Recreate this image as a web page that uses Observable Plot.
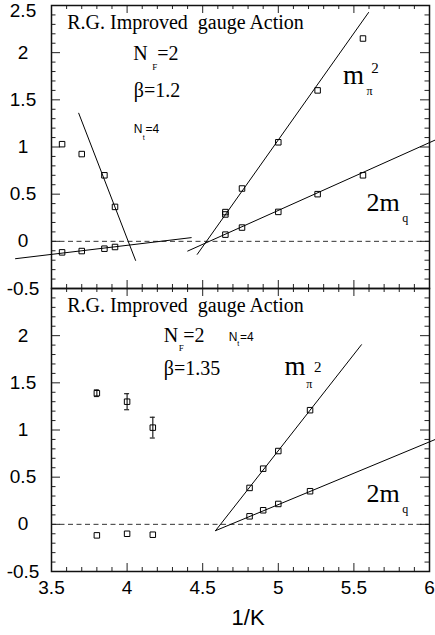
<!DOCTYPE html>
<html><head><meta charset="utf-8">
<script src="https://cdn.jsdelivr.net/npm/d3@7"></script>
<script src="https://cdn.jsdelivr.net/npm/@observablehq/plot@0.6"></script>
<style>body{margin:0;background:#fff}</style>
</head><body><div id="chart"></div>
<script>
const panels = ["top", "bottom"];

// ---- top panel (beta = 1.2) ----
const topLeftK = [3.57, 3.70, 3.85, 3.92];
const topLeftUpper = [1.03, 0.925, 0.70, 0.365];
const topLeftLower = [-0.117, -0.103, -0.078, -0.06];
const topPionK = [4.65, 4.65, 4.76, 5.00, 5.26, 5.56];
const topPion = [0.285, 0.31, 0.56, 1.05, 1.60, 2.15];
const topQuarkK = [4.65, 4.76, 5.00, 5.26, 5.56];
const topQuark = [0.071, 0.146, 0.312, 0.50, 0.70];
const topFitUpperX = [3.68, 4.056], topFitUpperY = [1.358, -0.202];
const topFitLowerX = [3.262, 4.424], topFitLowerY = [-0.184, 0.039];
const topFitPionX = [4.464, 5.597], topFitPionY = [-0.138, 2.426];
const topFitQuarkX = [4.401, 6.038], topFitQuarkY = [-0.103, 1.074];

// ---- bottom panel (beta = 1.35) ----
const botLeftK = [3.80, 4.00, 4.17];
const botLeftUpper = [1.39, 1.30, 1.025];
const botLeftUpperErr = [0.035, 0.085, 0.11];
const botLeftLower = [-0.117, -0.10, -0.11];
const botRightK = [4.81, 4.90, 5.00, 5.21];
const botPion = [0.386, 0.59, 0.777, 1.21];
const botQuark = [0.085, 0.149, 0.216, 0.351];
const botFitPionX = [4.585, 5.55], botFitPionY = [-0.067, 1.904];
const botFitQuarkX = [4.585, 6.04], botFitQuarkY = [-0.067, 0.901];

// ---- tick labels ----
const xTickLabels = [3.5, 4, 4.5, 5, 5.5, 6];
const topYTickLabels = [-0.5, 0, 0.5, 1, 1.5, 2];
const topYTickTopLabel = [2.5];
const botYTickLabels = [-0.5, 0, 0.5, 1, 1.5, 2];

// build tables
const pts = (panel, xs, ys, errs) => xs.map((x, i) => ({panel, x, y: ys[i], err: errs ? errs[i] : 0}));
const points = [
  ...pts("top", topLeftK, topLeftUpper), ...pts("top", topLeftK, topLeftLower),
  ...pts("top", topPionK, topPion), ...pts("top", topQuarkK, topQuark),
  ...pts("bottom", botLeftK, botLeftUpper, botLeftUpperErr), ...pts("bottom", botLeftK, botLeftLower),
  ...pts("bottom", botRightK, botPion), ...pts("bottom", botRightK, botQuark)
];
const errRows = pts("bottom", botLeftK, botLeftUpper, botLeftUpperErr).map(d => ({...d, lo: d.y - d.err, hi: d.y + d.err}));
let fid = 0;
const fit = (panel, xs, ys) => { fid++; return xs.map((x, i) => ({panel, id: fid, x, y: ys[i]})); };
const fits = [
  ...fit("top", topFitUpperX, topFitUpperY), ...fit("top", topFitLowerX, topFitLowerY),
  ...fit("top", topFitPionX, topFitPionY), ...fit("top", topFitQuarkX, topFitQuarkY),
  ...fit("bottom", botFitPionX, botFitPionY), ...fit("bottom", botFitQuarkX, botFitQuarkY)
];

const W = 435, H = 635, ML = 51, MR = 6, MT = 5, MB = 64;
const PW = W - ML - MR, FH = (H - MT - MB) / 2;
const xMajor = xTickLabels;
const xMinor = d3.range(35, 61).filter(d => d % 5 !== 0).map(d => d / 10);
const yMajor = [...topYTickLabels, ...topYTickTopLabel];
const yMinor = d3.range(-5, 26).filter(d => d % 5 !== 0).map(d => d / 10);

const serif = "'Liberation Serif','Times New Roman',Times,serif";
const sans = "'Liberation Sans',Arial,Helvetica,sans-serif";
function label(panel, text, x, y, size, family) {
  return Plot.text([text], {x: () => x, y: () => y, fy: () => panel, text: d => d,
    fontSize: size, fontFamily: family, textAnchor: "start", lineAnchor: "bottom", fill: "black"});
}
const tickStroke = "#222";
const yLab = {frameAnchor: "left", dx: -28.5, text: d => String(d), textAnchor: "middle", fontSize: 19, fontFamily: sans, fill: "black"};

const chart = Plot.plot({
  width: W, height: H, marginLeft: ML, marginRight: MR, marginTop: MT, marginBottom: MB,
  style: {background: "white", fontFamily: sans, overflow: "visible"},
  x: {domain: [3.5, 6], axis: null},
  y: {domain: [-0.5, 2.5], axis: null},
  fy: {domain: panels, padding: 0, axis: null},
  marks: [
    Plot.ruleY([0], {stroke: "#333", strokeDasharray: "5,3.5", strokeWidth: 1}),
    // y ticks (inward, both sides)
    Plot.tickY(yMajor, {y: d => d, insetRight: PW - 9, stroke: tickStroke}),
    Plot.tickY(yMinor, {y: d => d, insetRight: PW - 4.5, stroke: tickStroke}),
    Plot.tickY(yMajor, {y: d => d, insetLeft: PW - 9, stroke: tickStroke}),
    Plot.tickY(yMinor, {y: d => d, insetLeft: PW - 4.5, stroke: tickStroke}),
    // x ticks (inward, top and bottom)
    Plot.tickX(xMajor, {x: d => d, insetTop: FH - 8, stroke: tickStroke}),
    Plot.tickX(xMinor, {x: d => d, insetTop: FH - 4, stroke: tickStroke}),
    Plot.tickX(xMajor, {x: d => d, insetBottom: FH - 8, stroke: tickStroke}),
    Plot.tickX(xMinor, {x: d => d, insetBottom: FH - 4, stroke: tickStroke}),
    Plot.frame({stroke: "#111", strokeWidth: 1.5}),
    // fit lines
    Plot.line(fits, {x: "x", y: "y", z: "id", fy: "panel", stroke: "black", strokeWidth: 1}),
    // error bars
    Plot.ruleX(errRows, {x: "x", y1: "lo", y2: "hi", fy: "panel", stroke: "#222", strokeWidth: 1.2}),
    Plot.ruleY(errRows, {x1: "x", x2: "x", y: "lo", fy: "panel", insetLeft: -2.5, insetRight: -2.5, stroke: "#222", strokeWidth: 1.2}),
    Plot.ruleY(errRows, {x1: "x", x2: "x", y: "hi", fy: "panel", insetLeft: -2.5, insetRight: -2.5, stroke: "#222", strokeWidth: 1.2}),
    // data points
    Plot.dot(points, {x: "x", y: "y", fy: "panel", symbol: "square", r: 3.1, stroke: "black", fill: "none", strokeWidth: 1}),
    // y tick labels
    Plot.text(topYTickLabels, {y: d => d, fy: () => "top", ...yLab}),
    Plot.text(topYTickTopLabel, {y: d => d, fy: () => "top", ...yLab, dy: 5}),
    Plot.text(botYTickLabels, {y: d => d, fy: () => "bottom", ...yLab}),
    // x tick labels
    Plot.text(xTickLabels, {x: d => d, fy: () => "bottom", frameAnchor: "bottom", dy: 22, lineAnchor: "bottom", text: d => String(d), textAnchor: "middle", fontSize: 19, fontFamily: sans, fill: "black"}),
    // x axis title
    Plot.text(["1/K"], {x: () => 4.8, fy: () => "bottom", frameAnchor: "bottom", dy: 53, lineAnchor: "bottom", text: d => d, textAnchor: "middle", fontSize: 22, fontFamily: sans, fill: "black"}),
    // top panel annotations
    label("top", "R.G. Improved  gauge Action", 3.604, 2.252, 20, serif),
    label("top", "N", 4.040, 1.918, 20, serif),
    label("top", "F", 4.166, 1.812, 9, serif),
    label("top", "=2", 4.199, 1.918, 20, serif),
    label("top", "β=1.2", 4.044, 1.535, 20, serif),
    label("top", "N", 4.044, 1.146, 12, sans),
    label("top", "t", 4.104, 1.074, 7, sans),
    label("top", "=4", 4.122, 1.146, 12, sans),
    label("top", "m", 5.428, 1.667, 27, serif),
    label("top", "π", 5.583, 1.553, 12, serif),
    label("top", "2", 5.614, 1.784, 15, serif),
    label("top", "2m", 5.583, 0.324, 26, serif),
    label("top", "q", 5.82, 0.21, 12, serif),
    // bottom panel annotations
    label("bottom", "R.G. Improved  gauge Action", 3.604, 2.248, 20, serif),
    label("bottom", "N", 4.243, 1.929, 20, serif),
    label("bottom", "F", 4.342, 1.833, 9, serif),
    label("bottom", "=2", 4.371, 1.929, 20, serif),
    label("bottom", "N", 4.673, 1.947, 12, sans),
    label("bottom", "t", 4.728, 1.894, 7, sans),
    label("bottom", "=4", 4.747, 1.947, 12, sans),
    label("bottom", "β=1.35", 4.243, 1.585, 20, serif),
    label("bottom", "m", 5.041, 1.585, 27, serif),
    label("bottom", "π", 5.185, 1.45, 12, serif),
    label("bottom", "2", 5.236, 1.61, 15, serif),
    label("bottom", "2m", 5.583, 0.235, 26, serif),
    label("bottom", "q", 5.82, 0.12, 12, serif)
  ]
});
document.getElementById("chart").append(chart);
</script>
</body></html>
